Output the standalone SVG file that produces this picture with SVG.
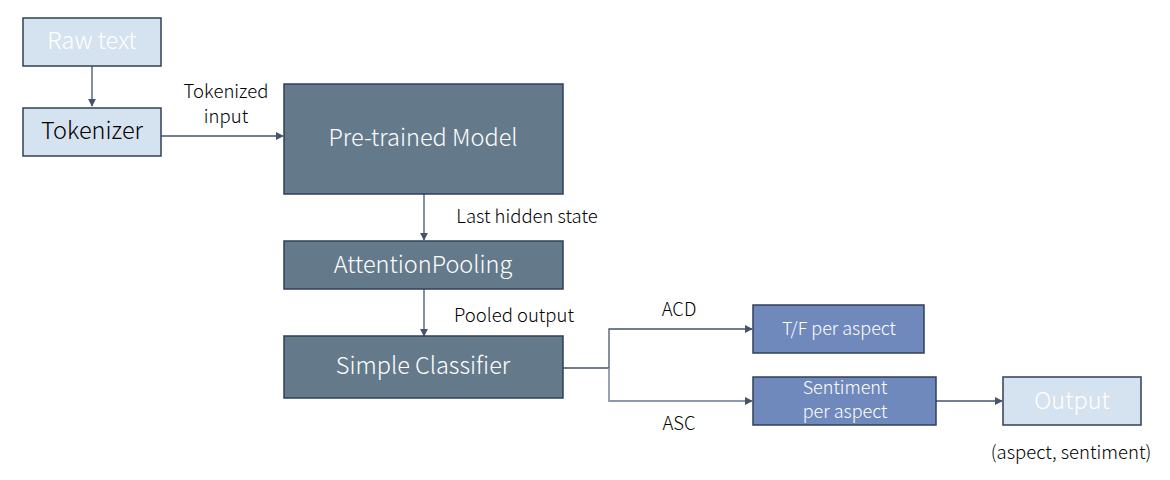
<svg xmlns="http://www.w3.org/2000/svg" width="1170" height="480" viewBox="0 0 1170 480">
<style>
text{font-family:"Noto Sans CJK KR","Noto Sans",sans-serif;text-anchor:middle;font-weight:300}
.light{fill:#d5e2ef;stroke:#2f4058;stroke-width:1.5}
.dark{fill:#647a8b;stroke:#2f4058;stroke-width:1.5}
.blue{fill:#7089bd;stroke:#2f4058;stroke-width:1.5}
.wt{fill:#ffffff}
.lab{fill:#000;font-size:18.5px}
.big{font-size:23.5px}
.mid{font-size:18px}
.conn{stroke:#44546a;stroke-width:1.3;fill:none}
</style>
<defs>
<marker id="ah" viewBox="0 0 10 10" refX="9" refY="5" markerWidth="8" markerHeight="8" orient="auto" markerUnits="userSpaceOnUse">
<path d="M0,0 L10,5 L0,10 z" fill="#44546a"/>
</marker>
</defs>
<g id="connectors">
<line class="conn" x1="92" y1="66" x2="92" y2="106" marker-end="url(#ah)"/>
<line class="conn" x1="161" y1="136" x2="283" y2="136" marker-end="url(#ah)"/>
<line class="conn" x1="424" y1="194" x2="424" y2="240" marker-end="url(#ah)"/>
<line class="conn" x1="424" y1="289" x2="424" y2="336" marker-end="url(#ah)"/>
<polyline class="conn" points="563,368 609,368 609,329 752,329" marker-end="url(#ah)" stroke-width="1.8"/>
<polyline class="conn" points="609,368 609,401 752,401" marker-end="url(#ah)" style="stroke:#8a9aaa;stroke-width:1.8"/>
<line class="conn" x1="936" y1="401" x2="1002" y2="401" marker-end="url(#ah)"/>
<text class="lab" x="226" y="98">Tokenized</text>
<text class="lab" x="226" y="123">input</text>
<text class="lab" x="527" y="223">Last hidden state</text>
<text class="lab" x="514" y="322">Pooled output</text>
<text class="lab" x="679" y="316">ACD</text>
<text class="lab" x="679" y="430">ASC</text>
</g>
<g id="raw-text">
<rect class="light" x="23" y="18" width="138" height="48"/>
<text class="wt big" x="92" y="49">Raw text</text>
</g>
<g id="tokenizer">
<rect class="light" x="23" y="108" width="138" height="48"/>
<text class="big" x="92" y="139" fill="#000">Tokenizer</text>
</g>
<g id="pretrained-model">
<rect class="dark" x="284" y="84" width="279" height="110"/>
<text class="wt big" x="423" y="146">Pre-trained Model</text>
</g>
<g id="attention-pooling">
<rect class="dark" x="284" y="241" width="279" height="48"/>
<text class="wt big" x="423" y="273">AttentionPooling</text>
</g>
<g id="simple-classifier">
<rect class="dark" x="284" y="336" width="279" height="62"/>
<text class="wt big" x="423" y="374">Simple Classifier</text>
</g>
<g id="tf-per-aspect">
<rect class="blue" x="753" y="305" width="171" height="48"/>
<text class="wt mid" x="839" y="335">T/F per aspect</text>
</g>
<g id="sentiment-per-aspect">
<rect class="blue" x="753" y="377" width="183" height="48"/>
<text class="wt mid" x="845" y="394">Sentiment</text>
<text class="wt mid" x="845" y="418">per aspect</text>
</g>
<g id="output">
<rect class="light" x="1003" y="377" width="138" height="48"/>
<text class="wt big" x="1072" y="409">Output</text>
<text class="lab" x="1071" y="459">(aspect, sentiment)</text>
</g>
</svg>
